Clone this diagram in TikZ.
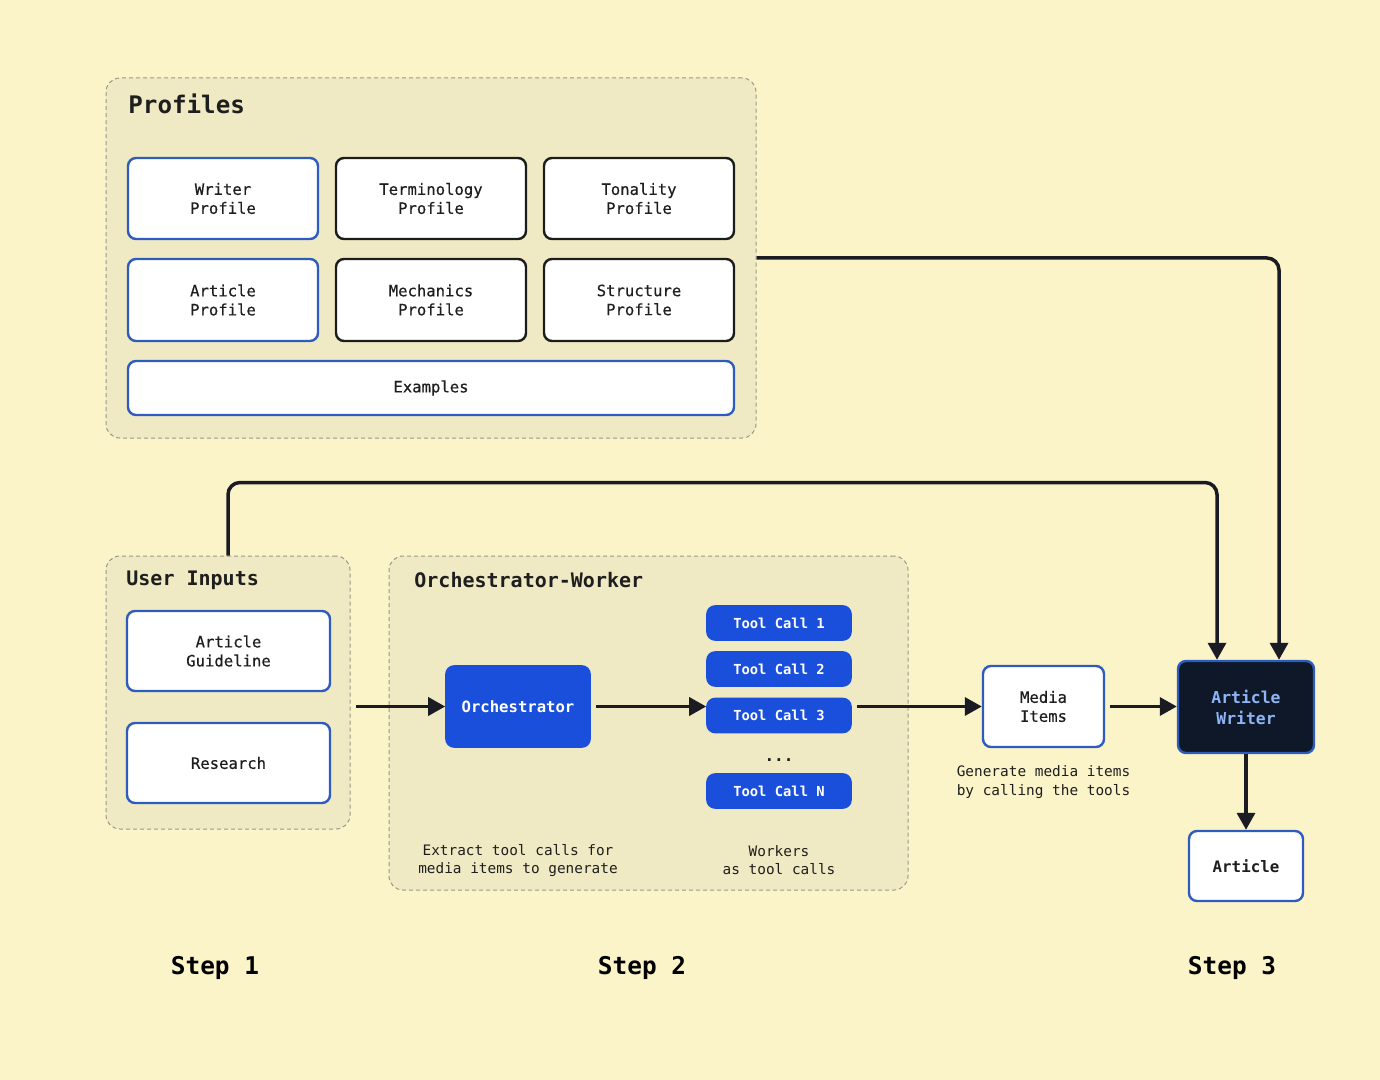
\documentclass[tikz,border=0pt]{standalone}
\usepackage{fontspec}
\setmainfont{DejaVu Sans Mono}
\newfontfamily\medfont[FakeBold=0.45]{DejaVu Sans Mono}
\usetikzlibrary{arrows.meta}
\definecolor{bgc}{HTML}{FBF4C9}
\definecolor{grpfill}{HTML}{F0EAC4}
\definecolor{grpline}{HTML}{9A968A}
\definecolor{blueline}{HTML}{2D5BBE}
\definecolor{darkline}{HTML}{1C1C1C}
\definecolor{bluefill}{HTML}{1A4FDC}
\definecolor{navy}{HTML}{0E1828}
\definecolor{lightblue}{HTML}{8FB5F5}
\definecolor{arrc}{HTML}{1B1B24}
\definecolor{txt}{HTML}{1E1E1E}
\tikzset{
  grp/.style={draw=grpline, fill=grpfill, dash pattern=on 2pt off 1.5pt, line width=0.5pt, rounded corners=7pt, inner sep=0pt},
  grptitle/.style={anchor=west, inner sep=0pt, text=txt, font=\bfseries\fontsize{10}{12}\selectfont},
  bbox/.style={draw=blueline, fill=white, line width=1.2pt, rounded corners=4pt, align=center, text=txt, inner sep=0pt, font=\medfont\fontsize{7.8}{9.5}\selectfont},
  kbox/.style={bbox, draw=darkline},
  fbox/.style={draw=bluefill, fill=bluefill, line width=0.8pt, rounded corners=4pt, align=center, text=white, inner sep=0pt, font=\bfseries\fontsize{7.8}{9.5}\selectfont},
  tbox/.style={fbox, minimum width=72pt, minimum height=17pt, font=\bfseries\fontsize{6.9}{8}\selectfont},
  captxt/.style={align=center, text=txt, inner sep=0pt, font=\fontsize{7.2}{9.5}\selectfont},
  steplbl/.style={text=black, inner sep=0pt, font=\bfseries\fontsize{12.2}{14}\selectfont},
  arr/.style={draw=arrc, line width=1.75pt, -{Triangle[length=8.5pt,width=9pt]}},
}
\begin{document}
\begin{tikzpicture}[x=0.5pt,y=-0.5pt]
\fill[bgc] (0,0) rectangle (1380,1080);
\useasboundingbox (0,0) rectangle (1380,1080);

% Profiles group
\node[grp, minimum width=325pt, minimum height=180pt] (prof) at (431,258) {};
\node[grptitle, font=\bfseries\fontsize{12.1}{14}\selectfont] (proft) at (128,104) {Profiles};
\node[bbox, minimum width=95pt, minimum height=40.5pt] (wp) at (223,198.5) {Writer\\Profile};
\node[kbox, minimum width=95pt, minimum height=40.5pt] (tp) at (431,198.5) {Terminology\\Profile};
\node[kbox, minimum width=95pt, minimum height=40.5pt] (top) at (639,198.5) {Tonality\\Profile};
\node[bbox, minimum width=95pt, minimum height=41pt] (ap) at (223,300) {Article\\Profile};
\node[kbox, minimum width=95pt, minimum height=41pt] (mp) at (431,300) {Mechanics\\Profile};
\node[kbox, minimum width=95pt, minimum height=41pt] (sp) at (639,300) {Structure\\Profile};
\node[bbox, minimum width=303pt, minimum height=27pt] (ex) at (431,388) {Examples};

% User inputs group
\node[grp, minimum width=122pt, minimum height=136.5pt] (ui) at (228,692.5) {};
\node[grptitle] (uit) at (126,580) {User Inputs};
\node[bbox, minimum width=101.5pt, minimum height=40pt] (ag) at (228.5,651) {Article\\Guideline};
\node[bbox, minimum width=101.5pt, minimum height=40pt] (rs) at (228.5,763) {Research};

% Orchestrator-worker group
\node[grp, minimum width=259.5pt, minimum height=167pt] (ow) at (648.5,723) {};
\node[grptitle] (owt) at (414,580) {Orchestrator-Worker};
\node[fbox, minimum width=72pt, minimum height=40.5pt] (orch) at (518,706.5) {Orchestrator};
\node[tbox] (tc1) at (779,623) {Tool Call 1};
\node[tbox] (tc2) at (779,669) {Tool Call 2};
\node[tbox] (tc3) at (779,715.5) {Tool Call 3};
\node[text=txt, inner sep=0pt, font=\bfseries\fontsize{8}{9}\selectfont] (dots) at (779,760) {...};
\node[tbox] (tcn) at (779,791) {Tool Call N};
\node[captxt, font=\fontsize{7.2}{9}\selectfont] (cap1) at (518,861) {Extract tool calls for\\media items to generate};
\node[captxt, font=\fontsize{7.2}{9}\selectfont] (cap2) at (779,860) {Workers\\as tool calls};

% Right side
\node[bbox, minimum width=60.5pt, minimum height=40.5pt] (mi) at (1043.5,706.5) {Media\\Items};
\node[captxt] (cap3) at (1043.5,782) {Generate media items\\by calling the tools};
\node[draw=blueline, fill=navy, line width=1.2pt, rounded corners=4pt, align=center, text=lightblue, inner sep=0pt, minimum width=68pt, minimum height=46pt, font=\bfseries\fontsize{8.2}{10.5}\selectfont] (aw) at (1246,707) {Article\\Writer};
\node[bbox, minimum width=57pt, minimum height=35pt, font=\bfseries\fontsize{7.9}{9.5}\selectfont] (art) at (1246,866) {Article};

% Step labels
\node[steplbl] (s1) at (215,968) {Step 1};
\node[steplbl] (s2) at (642,968) {Step 2};
\node[steplbl] (s3) at (1232,968) {Step 3};

% Connectors
\coordinate (xa) at (1279,0);
\coordinate (xb) at (1217,0);
\draw[arr, rounded corners=6pt] (prof.east) -| (aw.north -| xa);
\draw[arr, rounded corners=6pt] (ui.north) -- ++(0,-73) -| (aw.north -| xb);
\draw[arr, shorten <=2.5pt] (ui.east |- orch.west) -- (orch.west);
\draw[arr, shorten <=2.5pt] (orch.east) -- (tc3.west |- orch.east);
\draw[arr, shorten <=2.5pt] (tc3.east |- orch.east) -- (mi.west);
\draw[arr, shorten <=2.5pt] (mi.east) -- (aw.west |- mi.east);
\draw[arr] (aw.south) -- (art.north);
\end{tikzpicture}
\end{document}
